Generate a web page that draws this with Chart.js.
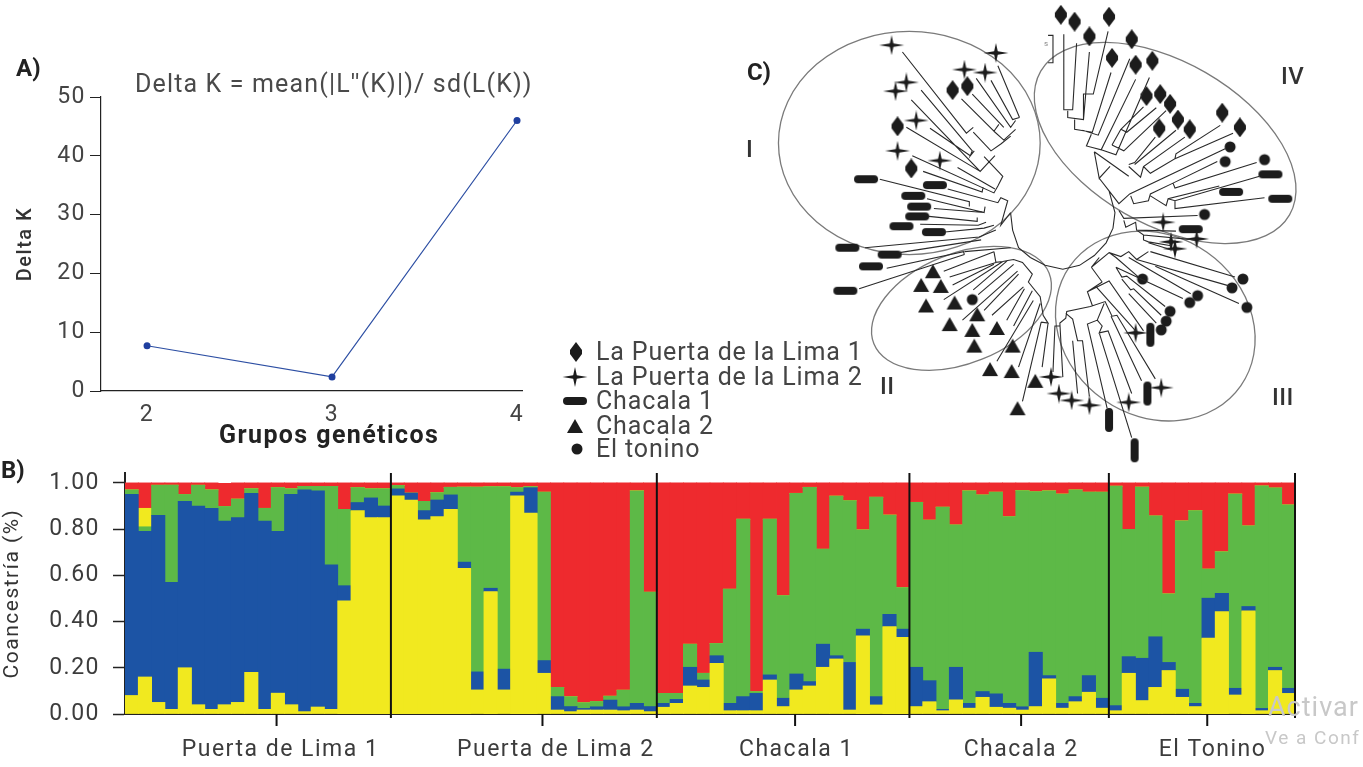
<!DOCTYPE html>
<html lang="es">
<head>
  <meta charset="UTF-8" />
  <title>Delta K, coancestría y árbol de poblaciones</title>
  <style>
    body { margin: 0; background: #fff; font-family: Roboto, sans-serif; color: #3c3c3c; overflow: hidden; }
    canvas { position: absolute; }
    .txt { position: absolute; white-space: nowrap; line-height: 1; }
    .letra { font-weight: 700; font-size: 24px; color: #222; }
    .romano { font-weight: 500; font-size: 24px; letter-spacing: .5px; color: #333; }
    .fila { position: absolute; left: 596px; font-size: 25px; letter-spacing: .85px; line-height: 24px; white-space: nowrap; color: #444; }
    .fila img { position: absolute; transform: translate(-50%, -50%); top: 12px; }
    .marca { color: #c8c8c8; }
  </style>
</head>
<body>
  <canvas id="panelC" style="left:740px;top:0" width="623" height="470"></canvas>
  <canvas id="panelA" style="left:0;top:60px" width="540" height="390"></canvas>
  <canvas id="panelB" style="left:0;top:465px" width="1363" height="302"></canvas>

  <div class="txt letra" style="left:16px;top:56px">A)</div>
  <div class="txt letra" style="left:1px;top:458px">B)</div>
  <div class="txt letra" style="left:747px;top:60px">C)</div>
  <div class="txt" style="left:135px;top:71px;font-size:25px;letter-spacing:1.15px;color:#4a4a4a">Delta K = mean(|L''(K)|)/ sd(L(K))</div>
  <div class="txt" style="left:219px;top:422px;font-size:25px;font-weight:700;letter-spacing:1.4px;color:#222">Grupos genéticos</div>
  <div class="txt romano" style="left:746px;top:137px">I</div>
  <div class="txt romano" style="left:880px;top:374px">II</div>
  <div class="txt romano" style="left:1272px;top:385px">III</div>
  <div class="txt romano" style="left:1281px;top:64px">IV</div>
  <div class="txt" style="left:1044px;top:40px;font-size:8px;color:#888">s</div>
  <div class="txt marca" style="left:1268px;top:694px;font-size:27px;letter-spacing:1px">Activar</div>
  <div class="txt marca" style="left:1265px;top:728px;font-size:19px;letter-spacing:1.5px">Ve a Conf</div>

  <div id="leyenda"></div>

  <script src="https://cdn.jsdelivr.net/npm/chart.js"></script>
  <script>
    // Panel A
    const kValues = [2, 3, 4];
    const deltaK = [7.7, 2.4, 46];
    const deltaTicks = [0, 10, 20, 30, 40, 50];

    // Panel B, una barra por individuo
    const groups = ["Puerta de Lima 1", "Puerta de Lima 2", "Chacala 1", "Chacala 2", "El Tonino"];
    const groupSizes = [20, 20, 19, 15, 14];
    const groupTickAt = [10.9, 30.9, 49.9, 66.9, 80.9];
    const groupLabelAt = [11.2, 31.9, 50, 66.9, 81.3];
    const coTicks = [0, 0.2, 0.4, 0.6, 0.8, 1];

    const yellow = [
      .08,.16,.05,.02,.20,.04,.02,.04,.05,.18,.02,.09,.04,.01,.03,.02,.49,.88,.85,.85,
      .944,.926,.84,.854,.886,.63,.104,.53,.104,.944,.869,.176,.017,.01,.017,.017,.017,.014,.017,.01,
      .029,.046,.121,.115,.219,.014,.014,.014,.147,.032,.104,.121,.202,.238,.017,.338,.039,.378,.332,
      .032,.053,.014,.061,.025,.072,.029,.025,.017,.032,.152,.025,.053,.094,.025,
      .014,.176,.058,.115,.188,.072,.032,.328,.443,.082,.446,.014,.188,.089
    ];
    const blue = [
      .87,.63,.81,.55,.72,.86,.87,.795,.80,.775,.815,.70,.91,.96,.935,.625,.065,.035,.085,.05,
      .03,.03,.04,.072,.062,.027,.078,.014,.09,.016,.11,.055,.058,.022,.007,.014,.043,.017,.029,.022,
      .017,.017,.081,.032,.033,.032,.061,.075,.022,.036,.069,.019,.10,.014,.206,.029,.036,.053,.035,
      .17,.091,.006,.141,.021,.025,.058,.021,.014,.235,.014,.021,.022,.072,.043,
      .022,.072,.183,.219,.035,.035,.014,.173,.079,.029,.019,.01,.014,.022
    ];
    const green = [
      .02,.02,.13,.42,.03,.09,.08,.063,.08,.02,.055,.19,.025,.015,.02,.34,.33,.065,.04,.075,
      .015,0,.04,.032,.033,.325,.80,.44,.79,.02,.005,.729,.04,.043,.025,.023,.017,.072,.92,.495,
      .043,.026,.10,.029,.053,.494,.768,.008,.674,.444,.782,.841,.411,.691,.70,.43,.863,.43,.18,
      .714,.695,.875,.616,.92,.851,.873,.808,.936,.695,.80,.906,.895,.794,.892,
      .95,.551,.741,.523,.297,.729,.834,.126,.18,.841,.349,.963,.776,.794
    ];
    // segunda franja amarilla, solo aparece en una barra del primer grupo
    const yellowTop = [
      0,.08,0,0,0,0,0,0,0,0,0,0,0,0,0,0,0,0,0,0,
      0,0,0,0,0,0,0,0,0,0,0,0,0,0,0,0,0,0,0,0,
      0,0,0,0,0,0,0,0,0,0,0,0,0,0,0,0,0,0,0,
      0,0,0,0,0,0,0,0,0,0,0,0,0,0,0,
      0,0,0,0,0,0,0,0,0,0,0,0,0,0
    ];
    const red = [
      .03,.11,.01,.01,.05,.01,.03,.10,.07,.025,.11,.02,.025,.015,.015,.015,.115,.02,.025,.025,
      .011,.044,.08,.042,.019,.018,.018,.016,.016,.02,.016,.04,.885,.925,.951,.946,.923,.897,.034,.473,
      .911,.911,.698,.824,.695,.46,.157,.903,.157,.488,.045,.019,.287,.057,.077,.203,.062,.139,.453,
      .084,.161,.105,.182,.034,.052,.04,.146,.033,.038,.034,.048,.03,.04,.04,
      .014,.201,.018,.143,.48,.164,.12,.373,.298,.048,.186,.013,.022,.095
    ];

    // Panel C, coordenadas del esquema del árbol
    const puerta1 = [[951,87],[966,83],[895,124],[909,167],[1061,10],[1075,17],[1110,12],[1090,32],[1133,35],[1113,54],[1137,61],[1154,57],[1148,93],[1162,91],[1172,101],[1180,117],[1161,126],[1192,127],[1225,110],[1243,125]];
    const puerta2 = [[889,41],[995,49],[963,66],[984,69],[904,79],[893,88],[914,118],[895,149],[938,159],[1051,380],[1059,397],[1072,404],[1090,409],[1165,222],[1199,239],[1173,242],[1177,249],[1137,335],[1163,391],[1130,406]];
    const chacala1 = [[863,178],[933,184],[911,195],[917,206],[915,216],[899,226],[932,232],[844,248],[887,255],[868,267],[842,292],[1274,173],[1234,191],[1284,198],[1193,229]];
    const chacala1Vert = [[1152,337],[1149,397],[1110,424],[1136,455]];
    const chacala2 = [[931,272],[919,286],[939,287],[924,307],[953,304],[976,316],[948,326],[971,332],[996,330],[973,348],[1012,348],[989,372],[1011,374],[1035,384],[1017,412]];
    const tonino = [[971,301],[1233,145],[1228,160],[1268,158],[1207,214],[1144,280],[1246,280],[1235,289],[1250,309],[1200,297],[1192,304],[1172,313],[1168,323],[1163,332]];

    const legendNames = ["La Puerta de la Lima 1", "La Puerta de la Lima 2", "Chacala 1", "Chacala 2", "El tonino"];

    // ramas: cada lista es una polilínea x,y,x,y...
    const branches = [
      // I
      [900,48,965,131,972,125],[972,130,990,149,1000,142],[919,87,971,149,969,154,973,149],[909,97,979,170,994,154],
      [928,126,969,154],[904,125,979,170],[960,96,993,129,998,122],[971,91,1003,125],[975,75,1010,125,1015,118],
      [990,77,1012,117,1019,115],[997,62,1019,115],[993,129,1003,138,1015,127],[1000,142,1010,134],
      [910,154,993,192,997,185,1002,175,983,155],[921,170,981,191,982,186],[956,166,994,188],
      [946,188,997,202,1000,197,1007,200,1000,225,1010,212],[877,178,968,201,968,206],[925,198,983,212,984,206],
      [932,208,983,212],[927,216,976,221,976,217],[918,224,977,225,985,222],[943,232,983,228,993,225],
      [862,248,978,237,995,230],[897,253,980,240],[884,269,962,252,963,255],[856,290,963,255],[963,252,1010,248],
      // II
      [942,272,993,252],[948,278,995,263],[951,286,993,265],[942,301,1002,262],[972,291,1007,261],[977,296,1013,265],
      [961,322,1017,272],[983,312,1018,275],[991,317,1023,288],[1006,322,1024,290],[1013,328,1032,292],[996,364,1033,302],
      [1018,370,1040,305],[1022,405,1041,324],[1042,370,1048,325],
      [993,252,995,263,1002,262,1007,261,1013,260,1022,263,1032,275,1028,283,1040,298,1043,317,1048,325,1041,324],
      // III
      [1092,268,1110,253,1117,258,1140,278],[1092,268,1103,283],[1110,253,1122,257,1130,252,1138,260,1150,252],
      [1152,252,1238,278],[1138,260,1232,287],[1157,267,1242,305],[1130,258,1193,295],[1117,268,1185,300],
      [1117,268,1123,278,1128,277,1167,308],[1123,280,1132,291,1135,290,1163,317],[1130,295,1158,325],
      [1103,283,1088,293,1093,307],[1088,293,1110,282,1145,333],[1097,288,1137,333],
      [1091,308,1106,303,1113,318,1118,317,1157,382],[1112,318,1143,384],[1105,305,1098,322,1088,326,1108,412],
      [1098,322,1103,328,1100,335,1109,333,1133,397],[1100,335,1133,442],[1091,308,1067,313,1066,320,1060,325,1063,380],
      [1060,328,1055,328,1053,375],[1066,315,1073,321,1078,343,1083,343,1090,400],[1073,343,1078,397],
      // IV
      [1064,30,1064,107,1073,107,1077,39],[1068,108,1068,115,1084,117,1090,48],[1084,117,1084,91,1094,91,1109,27],
      [1075,117,1075,127,1093,130,1112,69],[1083,128,1099,133,1131,55],[1092,132,1087,144,1102,148,1137,76],
      [1102,148,1117,153,1151,74],[1095,150,1130,175],[1095,150,1100,177,1111,165],[1122,127,1145,104],[1122,127,1128,130,1158,105],
      [1113,143,1125,149,1168,108],[1113,143,1122,127],[1130,163,1136,161,1157,135],[1136,163,1178,128],
      [1130,165,1142,176,1145,165,1187,135],[1145,165,1152,172,1177,157,1178,152,1223,123],[1177,157,1236,131],
      [1100,177,1110,190,1120,203,1131,193,1228,147],[1132,195,1135,203,1150,200,1152,193,1175,182,1220,160],
      [1175,182,1177,187,1260,161],[1152,195,1168,205,1170,198,1222,185],[1170,198,1177,200,1263,175],[1177,200,1177,208,1268,197],
      [1120,210,1125,218,1200,215],[1125,220,1127,227,1137,222,1138,230,1178,231],[1138,230,1145,235,1197,240],
      [1145,235,1145,240,1150,242,1173,246],[1150,243,1173,250],
      // centro
      [1010,213,1012,230,1018,248,1030,258,1045,266,1063,270,1080,266,1095,256,1107,243,1114,228,1116,212,1110,190],
      [1092,268,1100,258],
      // escala
      [1048,31,1053,31,1053,59,1048,59]
    ];

    // elipses de los grupos: centro x, centro y, semiejes, giro en grados
    const clusters = [
      [907, 141, 133, 114, 0],
      [960, 310, 96, 56, -22],
      [1157, 328, 106, 92, 35],
      [1167, 141, 146, 83, 30]
    ];

    const black = "#222";

    function marker(w, h, paint) {
      const c = document.createElement("canvas");
      c.width = w; c.height = h;
      const ctx = c.getContext("2d");
      ctx.fillStyle = "#1c1c1c";
      ctx.translate(w / 2, h / 2);
      ctx.beginPath();
      paint(ctx);
      ctx.fill();
      return c;
    }
    function poly(ctx, pts) {
      pts.forEach((p, i) => i ? ctx.lineTo(p[0], p[1]) : ctx.moveTo(p[0], p[1]));
      ctx.closePath();
    }
    const diamondIcon = marker(14, 20, ctx => poly(ctx, [[0,-10],[6,-2],[6,2],[0,10],[-6,2],[-6,-2]]));
    const starIcon = marker(26, 20, ctx => poly(ctx, [[0,-10],[1.8,-1.8],[12.5,0],[1.8,1.8],[0,10],[-1.8,1.8],[-12.5,0],[-1.8,-1.8]]));
    const barIcon = marker(26, 10, ctx => ctx.roundRect(-12, -4, 24, 8, 4));
    const triangleIcon = marker(18, 16, ctx => poly(ctx, [[0,-7],[8,7],[-8,7]]));
    const circleIcon = marker(14, 14, ctx => ctx.arc(0, 0, 5.5, 0, Math.PI * 2));

    // leyenda del panel C
    const legendIcons = [diamondIcon, starIcon, barIcon, triangleIcon, circleIcon];
    const legendTop = [340, 365, 389, 414, 437];
    const legendIconX = [-20, -21, -21, -21, -19];
    legendNames.forEach((name, i) => {
      const row = document.createElement("div");
      row.className = "fila";
      row.style.top = legendTop[i] + "px";
      row.textContent = name;
      const img = document.createElement("img");
      img.src = legendIcons[i].toDataURL();
      img.style.left = legendIconX[i] + "px";
      row.appendChild(img);
      document.getElementById("leyenda").appendChild(row);
    });

    const toPoints = list => list.map(p => ({ x: p[0], y: p[1] }));

    function flattenBranches() {
      const out = [];
      branches.forEach(b => {
        for (let i = 0; i < b.length; i += 2) out.push({ x: b[i], y: b[i + 1] });
        out.push({ x: null, y: null });
      });
      return out;
    }

    // el original esta estirado a lo ancho, se abre un poco el texto de los ejes
    const wideText = {
      id: "wideText",
      beforeDraw(chart) { chart.ctx.letterSpacing = "1.5px"; }
    };

    const noPadding = s => { s.paddingTop = 0; s.paddingBottom = 0; s.paddingLeft = 0; s.paddingRight = 0; };

    // Panel A
    new Chart(document.getElementById("panelA"), {
      type: "line",
      data: {
        datasets: [{
          data: kValues.map((k, i) => ({ x: k, y: deltaK[i] })),
          borderColor: "#2c4ea3",
          borderWidth: 1.2,
          backgroundColor: "#1f3f9f",
          pointBackgroundColor: "#1f3f9f",
          pointBorderWidth: 0,
          pointRadius: 3.5,
          tension: 0,
          clip: false
        }]
      },
      plugins: [wideText],
      options: {
        responsive: false,
        animation: false,
        layout: { padding: { top: 37, right: 18 } },
        plugins: { legend: { display: false }, tooltip: { enabled: false } },
        scales: {
          x: {
            type: "linear",
            min: 1.751,
            max: 4.027,
            afterFit: s => { s.height = 59; noPadding(s); },
            afterBuildTicks: s => { s.ticks = kValues.map(v => ({ value: v })); },
            grid: { drawOnChartArea: false, drawTicks: false },
            border: { color: black, width: 1.2 },
            ticks: { color: "#444", font: { family: "Roboto", size: 23 }, padding: 10, maxRotation: 0 }
          },
          y: {
            min: 0,
            max: 50,
            afterFit: s => { s.width = 101; noPadding(s); },
            afterBuildTicks: s => { s.ticks = deltaTicks.map(v => ({ value: v })); },
            grid: { drawOnChartArea: false, tickLength: 11, tickColor: black },
            border: { color: black, width: 1.2 },
            ticks: { color: "#444", font: { family: "Roboto", size: 23 }, padding: 4 },
            title: { display: true, text: "Delta K", color: "#333", font: { family: "Roboto", size: 20, weight: "500" }, padding: { top: 14, bottom: 0 } }
          }
        }
      }
    });

    // separadores entre poblaciones y marca en el centro de cada una
    const groupLines = {
      id: "groupLines",
      afterDatasetsDraw(chart) {
        const { ctx, scales, chartArea } = chart;
        let n = 0;
        ctx.save();
        ctx.strokeStyle = "#111";
        ctx.lineWidth = 2;
        groupSizes.forEach(size => {
          n += size;
          const x = scales.x.getPixelForValue(n - 0.5);
          ctx.beginPath();
          ctx.moveTo(x, chartArea.top);
          ctx.lineTo(x, chartArea.bottom + 4);
          ctx.stroke();
        });
        groupTickAt.forEach(v => {
          const x = scales.x.getPixelForValue(v);
          ctx.beginPath();
          ctx.moveTo(x, chartArea.bottom);
          ctx.lineTo(x, chartArea.bottom + 12);
          ctx.stroke();
        });
        ctx.restore();
      }
    };

    const stackSeries = (data, color) => ({ data, backgroundColor: color, borderWidth: 0, inflateAmount: 0.4, barPercentage: 1, categoryPercentage: 1 });
    const yellowColor = "#f1e91f";

    // Panel B
    new Chart(document.getElementById("panelB"), {
      type: "bar",
      data: {
        labels: yellow.map((v, i) => String(i + 1)),
        datasets: [
          stackSeries(yellow, yellowColor),
          stackSeries(blue, "#1c54a5"),
          stackSeries(green, "#5db947"),
          stackSeries(yellowTop, yellowColor),
          stackSeries(red, "#ee2a2e")
        ]
      },
      plugins: [wideText, groupLines],
      options: {
        responsive: false,
        animation: false,
        layout: { padding: { top: 8, right: 68 } },
        plugins: { legend: { display: false }, tooltip: { enabled: false } },
        scales: {
          x: {
            stacked: true,
            weight: 0,
            afterFit: s => { s.height = 12; noPadding(s); },
            grid: { drawOnChartArea: false, drawTicks: false },
            border: { color: black, width: 2 },
            ticks: { display: false }
          },
          xNames: {
            type: "linear",
            position: "bottom",
            weight: 1,
            offset: false,
            min: -0.5,
            max: 87.5,
            afterFit: s => { s.height = 41; noPadding(s); },
            afterBuildTicks: s => { s.ticks = groupLabelAt.map(v => ({ value: v })); },
            grid: { display: false, drawTicks: false },
            border: { display: false },
            ticks: {
              autoSkip: false,
              maxRotation: 0,
              padding: 10,
              color: "#3c3c3c",
              font: { family: "Roboto", size: 23 },
              callback: (value, index) => groups[index]
            }
          },
          y: {
            stacked: true,
            min: 0,
            max: 1.043,
            afterFit: s => { s.width = 125; noPadding(s); },
            afterBuildTicks: s => { s.ticks = coTicks.map(v => ({ value: v })); },
            grid: { drawOnChartArea: false, tickLength: 12, tickColor: "#222", tickWidth: 1.5 },
            border: { color: black, width: 2 },
            ticks: { color: "#3c3c3c", font: { family: "Roboto", size: 23 }, padding: 13, callback: v => v.toFixed(2) },
            title: { display: true, text: "Coancestría (%)", color: "#333", font: { family: "Roboto", size: 21 }, padding: { top: 0, bottom: 0 } }
          }
        }
      }
    });

    // elipses del panel C, van con las escalas del gráfico
    const clusterOutlines = {
      id: "clusterOutlines",
      beforeDatasetsDraw(chart) {
        const { ctx, scales } = chart;
        ctx.save();
        ctx.strokeStyle = "#7a7a7a";
        ctx.lineWidth = 1.3;
        clusters.forEach(c => {
          const cx = scales.x.getPixelForValue(c[0]);
          const cy = scales.y.getPixelForValue(c[1]);
          const rx = Math.abs(scales.x.getPixelForValue(c[0] + c[2]) - cx);
          const ry = Math.abs(scales.y.getPixelForValue(c[1] + c[3]) - cy);
          ctx.beginPath();
          ctx.ellipse(cx, cy, rx, ry, c[4] * Math.PI / 180, 0, Math.PI * 2);
          ctx.stroke();
        });
        ctx.restore();
      }
    };

    const markerSeries = (list, icon, rotation) => ({
      data: toPoints(list),
      showLine: false,
      pointStyle: icon,
      pointRotation: rotation || 0,
      clip: false
    });

    // Panel C
    new Chart(document.getElementById("panelC"), {
      type: "scatter",
      data: {
        datasets: [
          {
            data: flattenBranches(),
            showLine: true,
            spanGaps: false,
            borderColor: "#2a2a2a",
            borderWidth: 1.1,
            pointRadius: 0,
            clip: false
          },
          markerSeries(puerta1, diamondIcon),
          markerSeries(puerta2, starIcon),
          markerSeries(chacala1, barIcon),
          markerSeries(chacala1Vert, barIcon, 90),
          markerSeries(chacala2, triangleIcon),
          markerSeries(tonino, circleIcon)
        ]
      },
      plugins: [clusterOutlines],
      options: {
        responsive: false,
        animation: false,
        plugins: { legend: { display: false }, tooltip: { enabled: false } },
        scales: {
          x: { type: "linear", display: false, min: 740, max: 1363 },
          y: { type: "linear", display: false, min: 0, max: 470, reverse: true }
        }
      }
    });
  </script>
</body>
</html>
